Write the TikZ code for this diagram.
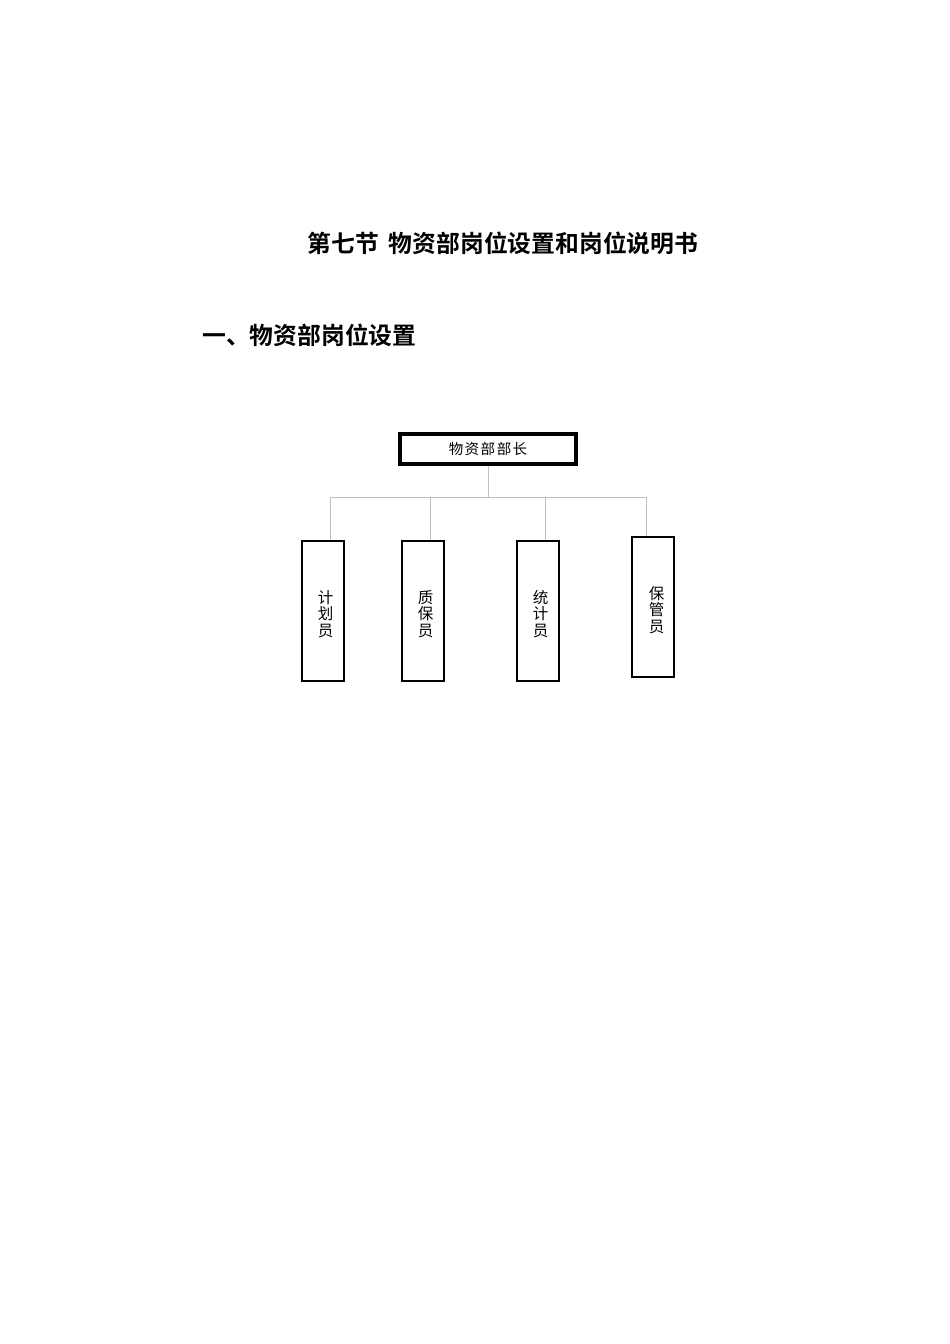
\documentclass[tikz,border=0pt]{standalone}
\usepackage{fontspec}
\setmainfont{Liberation Serif}
\newfontfamily\cjk{Noto Sans CJK SC}
\newfontfamily\cjkb{Noto Sans CJK SC Bold}
\tikzset{
  head/.style={font=\cjkb\fontsize{23.8}{28}\selectfont, inner sep=0pt, anchor=center},
  chief/.style={draw=black, line width=4pt, minimum width=176pt, minimum height=30pt, inner sep=0pt,
    font=\cjk\fontsize{14.5}{16}\selectfont},
  post/.style={draw=black, line width=1.8pt, minimum width=42pt, minimum height=140pt, inner sep=0pt},
  vlabel/.style={font=\cjk\fontsize{15.5}{16.5}\selectfont, align=center, inner sep=0pt},
  link/.style={draw=black!25, line width=1pt}
}
\begin{document}
\begin{tikzpicture}[x=1pt,y=-1pt]
\useasboundingbox (0,0) rectangle (950,1344);
\node[head] (title) at (503,243) {第七节\hspace{10pt}物资部岗位设置和岗位说明书};
\node[head, anchor=west] (sub) at (202,335) {一、物资部岗位设置};

\node[chief] (chief) at (488,449) {物\hspace{1.5pt}资\hspace{1.5pt}部\hspace{1.5pt}部\hspace{1.5pt}长};

\node[post] (p1) at (323,611) {};
\node[post] (p2) at (423,611) {};
\node[post] (p3) at (538,611) {};
\node[post] (p4) at (653,607) {};

\node[vlabel] (t1) at (325.5,614) {计\\划\\员};
\node[vlabel] (t2) at (425.5,614) {质\\保\\员};
\node[vlabel] (t3) at (540.5,614) {统\\计\\员};
\node[vlabel] (t4) at (656.5,610) {保\\管\\员};

\coordinate (hub) at (488,497);
\coordinate (d1) at (330,497);
\coordinate (d2) at (430,497);
\coordinate (d3) at (545,497);
\coordinate (d4) at (646,497);
\draw[link] (chief.south) -- (hub);
\draw[link] (d1) -- (d4);
\draw[link] (d1) -- (d1 |- p1.north);
\draw[link] (d2) -- (d2 |- p2.north);
\draw[link] (d3) -- (d3 |- p3.north);
\draw[link] (d4) -- (d4 |- p4.north);
\end{tikzpicture}
\end{document}
